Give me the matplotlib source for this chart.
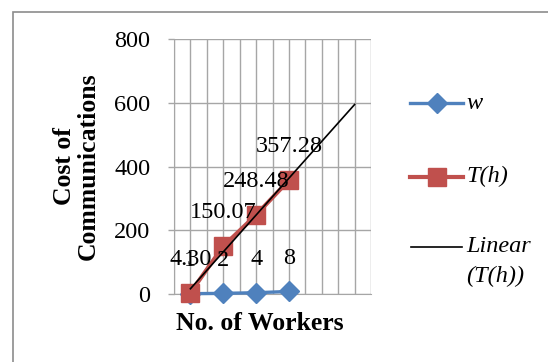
import matplotlib
matplotlib.use("Agg")
import matplotlib.pyplot as plt
from matplotlib.lines import Line2D
from matplotlib.patches import Rectangle
import numpy as np

# Data
positions = [1, 2, 3, 4]            # category slots of the workers
workers = [1, 2, 4, 8]              # series "w"
t_h = [4.30, 150.07, 248.48, 357.28]  # series "T(h)"
forecast_to = 6                     # trendline forward projection
y_ticks = [0, 200, 400, 600, 800]

BLUE = "#4F81BD"
RED = "#C0504D"
GRID = "#A6A6A6"
SERIF = "Liberation Serif"
FS = 17.5

plt.rcParams["font.family"] = SERIF

fig = plt.figure(figsize=(5.48, 3.62), dpi=100)
ax = fig.add_axes([174 / 548, 1 - 294 / 362, (371 - 174) / 548, (294 - 39.3) / 362])

ax.set_xlim(0.5, 6.5)
ax.set_ylim(0, 800)
ax.set_yticks(y_ticks)
ax.set_xticks(np.arange(0.5, 6.51, 0.5))
ax.tick_params(axis="x", length=0, labelbottom=False)
ax.tick_params(axis="y", length=4, width=1, color=GRID, pad=13, labelsize=FS)
ax.grid(True, color=GRID, linewidth=1)
for s in ax.spines.values():
    s.set_color(GRID)
ax.spines["top"].set_visible(False)
ax.spines["right"].set_visible(False)
ax.set_axisbelow(True)

# Series
ax.plot(positions, workers, color=BLUE, lw=2.4, marker="D", ms=10.5,
        mfc=BLUE, mec=BLUE, zorder=3, clip_on=False)
ax.plot(positions, t_h, color=RED, lw=3, marker="s", ms=12.5,
        mfc=RED, mec=RED, zorder=3, clip_on=False)

# Linear trendline fitted on T(h), projected forward
coef = np.polyfit(positions, t_h, 1)
tx = np.array([positions[0], forecast_to])
ax.plot(tx, np.polyval(coef, tx), color="black", lw=1.2, zorder=4)

# Data labels
for x, v in zip(positions, workers):
    ax.annotate(f"{v}", (x, v), xytext=(0, 24), textcoords="offset points",
                ha="center", va="center", fontsize=FS, zorder=5)
for x, v in zip(positions, t_h):
    ax.annotate(f"{v:.2f}", (x, v), xytext=(0, 24), textcoords="offset points",
                ha="center", va="center", fontsize=FS, zorder=5)

# Axis titles
fig.text(76 / 548, 1 - 166 / 362, "Cost of\nCommunications", rotation=90,
         ha="center", va="center", fontsize=18.5, fontweight="bold",
         linespacing=1.05)
fig.text(260 / 548, 1 - 323 / 362, "No. of Workers", ha="center", va="center",
         fontsize=18.5, fontweight="bold")

# Legend
def fx(px):
    return px / 548

def fy(py):
    return 1 - py / 362

fig.add_artist(Line2D([fx(410), fx(463)], [fy(103.3)] * 2, color=BLUE, lw=2.4,
                      transform=fig.transFigure))
fig.add_artist(Line2D([fx(436.5)], [fy(103.3)], color=BLUE, marker="D", ms=10.5,
                      transform=fig.transFigure))
fig.add_artist(Line2D([fx(410), fx(463)], [fy(176.7)] * 2, color=RED, lw=3,
                      transform=fig.transFigure))
fig.add_artist(Line2D([fx(436.5)], [fy(176.7)], color=RED, marker="s", ms=12.5,
                      transform=fig.transFigure))
fig.add_artist(Line2D([fx(411), fx(462)], [fy(246.7)] * 2, color="black", lw=1.2,
                      transform=fig.transFigure))
fig.text(fx(466), fy(103.3), "w", ha="left", va="center", fontsize=FS, style="italic")
fig.text(fx(466), fy(176.7), "T(h)", ha="left", va="center", fontsize=FS, style="italic")
fig.text(fx(466), fy(246.7), "Linear", ha="left", va="center", fontsize=FS, style="italic")
fig.text(fx(466), fy(276.7), "(T(h))", ha="left", va="center", fontsize=FS, style="italic")

# Chart border
fig.add_artist(Rectangle((13 / 548, -0.05), 1.0, 1 - 12 / 362 + 0.05, fill=False,
                         edgecolor="#8C8C8C", lw=1.2, transform=fig.transFigure))

fig.savefig("out.png", dpi=100)
